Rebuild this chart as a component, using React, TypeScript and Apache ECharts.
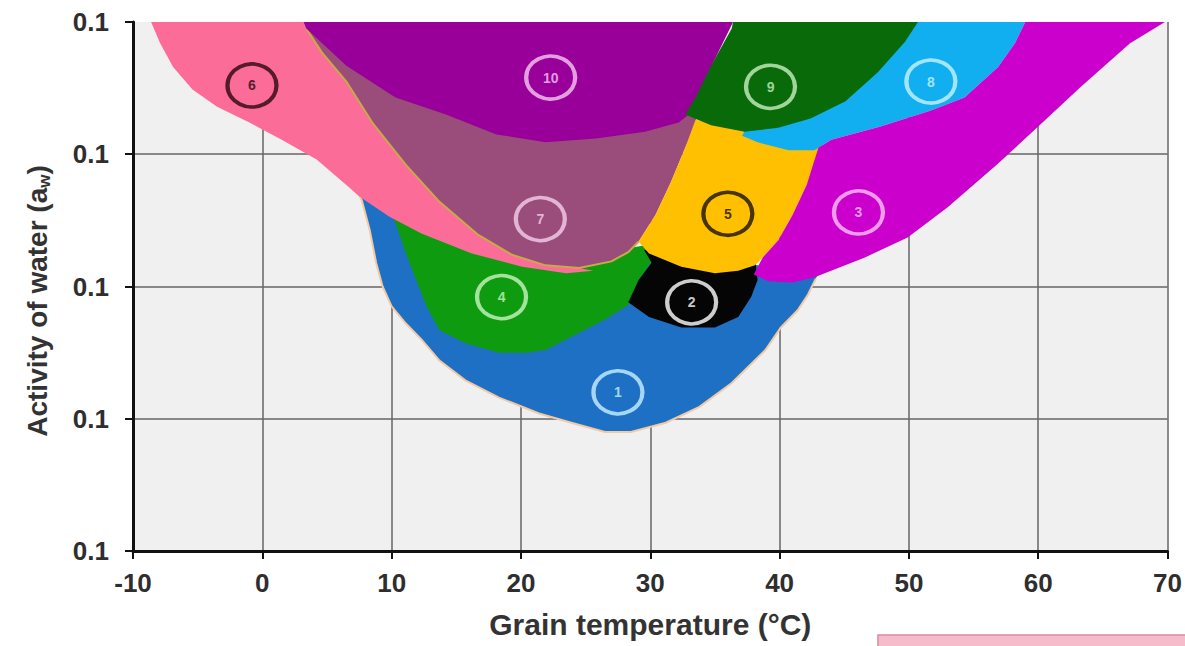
import React, { useEffect, useRef } from "react";
import * as echarts from "echarts";

// Axes
const xMin = -10;
const xMax = 70;
const xStep = 10;
const yMin = 0.6;
const yMax = 1.0;
const yStep = 0.1;
const yTickLabels = ["0.1", "0.1", "0.1", "0.1", "0.1"];
const xAxisTitle = "Grain temperature (°C)";
const yAxisTitleMain = "Activity of water (a";
const yAxisTitleSub = "w";

// Region outlines: [temperature °C, water activity]
const region1 = [[7.5,0.869],[7.7,0.865],[8.3,0.843],[8.8,0.818],[9.3,0.800],[10.0,0.785],[11.1,0.772],[12.3,0.760],[13.7,0.744],[15.7,0.729],[18.3,0.716],[21.4,0.704],[23.9,0.697],[26.5,0.690],[28.5,0.690],[31.2,0.697],[33.8,0.709],[36.3,0.727],[38.9,0.752],[40.1,0.769],[41.4,0.782],[42.2,0.794],[42.8,0.806],[43.1,0.811],[40.7,0.814],[38.3,0.816],[33.8,0.824],[29.1,0.828],[22.9,0.816],[16.7,0.831],[12.1,0.850]];
const region1Edge = [[7.5,0.869],[7.7,0.865],[8.3,0.843],[8.8,0.818],[9.3,0.800],[10.0,0.785],[11.1,0.772],[12.3,0.760],[13.7,0.744],[15.7,0.729],[18.3,0.716],[21.4,0.704],[23.9,0.697],[26.5,0.690],[28.5,0.690],[31.2,0.697],[33.8,0.709],[36.3,0.727],[38.9,0.752],[40.1,0.769],[41.4,0.782],[42.2,0.794],[42.8,0.806]];
const region4 = [[9.8,0.858],[10.3,0.848],[11.1,0.825],[11.9,0.805],[12.7,0.785],[13.7,0.767],[15.7,0.757],[18.3,0.750],[20.4,0.750],[21.9,0.752],[23.9,0.762],[26.5,0.775],[28.3,0.786],[29.1,0.805],[30.1,0.819],[29.5,0.831],[28.3,0.829],[26.0,0.822],[22.9,0.820],[16.7,0.835],[12.1,0.854]];
const region2 = [[29.5,0.828],[32.4,0.820],[35.0,0.816],[36.8,0.819],[38.1,0.822],[38.3,0.805],[37.8,0.792],[36.8,0.777],[35.0,0.769],[32.4,0.769],[29.9,0.777],[28.3,0.788],[29.1,0.805],[30.1,0.818]];
const region6 = [[-8.6,1.0],[3.2,1.0],[3.4,0.995],[4.6,0.977],[6.5,0.955],[8.5,0.924],[11.1,0.892],[13.7,0.864],[16.7,0.839],[19.3,0.824],[21.9,0.816],[24.5,0.814],[25.6,0.812],[23.5,0.810],[20.1,0.815],[16.2,0.825],[12.3,0.840],[9.8,0.853],[7.5,0.868],[6.7,0.875],[4.2,0.896],[1.5,0.911],[-1.0,0.924],[-3.5,0.936],[-5.4,0.949],[-6.9,0.966],[-7.9,0.984]];
const region7 = [[3.2,1.0],[3.4,0.995],[4.6,0.977],[6.5,0.955],[8.5,0.924],[11.1,0.892],[13.7,0.864],[16.7,0.839],[19.3,0.824],[21.9,0.816],[24.5,0.814],[27.0,0.819],[28.3,0.826],[29.1,0.834],[30.4,0.854],[31.6,0.879],[32.7,0.905],[33.5,0.922],[34.5,1.0]];
const region7Edge = [[3.4,0.995],[4.6,0.977],[6.5,0.955],[8.5,0.924],[11.1,0.892],[13.7,0.864],[16.7,0.839],[19.3,0.824],[21.9,0.816],[24.5,0.814],[27.0,0.819],[28.3,0.826],[29.1,0.834]];
const region5 = [[33.5,0.926],[37.3,0.919],[39.9,0.911],[43.4,0.907],[42.1,0.877],[41.0,0.854],[39.9,0.835],[38.7,0.822],[38.1,0.816],[36.8,0.812],[35.0,0.810],[32.4,0.815],[29.9,0.825],[29.1,0.834],[30.4,0.854],[31.6,0.879],[32.7,0.905]];
const region10 = [[3.2,1.0],[3.4,0.995],[6.5,0.967],[10.3,0.943],[14.2,0.930],[18.1,0.915],[21.9,0.909],[25.8,0.912],[29.6,0.917],[32.2,0.924],[33.1,0.931],[34.7,0.966],[36.4,1.0]];
const region8 = [[49.9,1.0],[59.0,1.0],[58.2,0.984],[56.9,0.966],[54.3,0.943],[51.7,0.933],[47.8,0.921],[44.0,0.911],[42.7,0.903],[40.7,0.903],[38.3,0.909],[37.1,0.914],[38.3,0.935],[45.0,0.960]];
const region9 = [[36.4,1.0],[50.7,1.0],[49.7,0.985],[47.6,0.962],[45.1,0.940],[42.4,0.927],[39.9,0.920],[37.3,0.917],[34.7,0.922],[32.7,0.930],[33.5,0.943],[34.7,0.967],[36.3,0.995]];
const region3 = [[59.0,1.0],[69.8,1.0],[67.1,0.984],[63.3,0.951],[60.0,0.921],[56.9,0.893],[53.0,0.860],[49.9,0.837],[46.6,0.822],[42.7,0.807],[41.0,0.803],[39.1,0.804],[38.0,0.809],[38.7,0.822],[39.9,0.835],[41.0,0.854],[42.1,0.877],[43.0,0.905],[44.0,0.911],[47.8,0.921],[51.7,0.933],[54.3,0.943],[56.9,0.966],[58.2,0.984]];

// Region number labels: [name, temperature, water activity]
const labelNames = ["1", "2", "3", "4", "5", "6", "7", "8", "9", "10"];
const labelX = [27.5, 33.2, 46.1, 18.5, 36.0, -0.8, 21.5, 51.7, 39.3, 22.3];
const labelY = [0.720, 0.788, 0.856, 0.792, 0.855, 0.952, 0.851, 0.955, 0.951, 0.958];

// Styles (drawing order bottom -> top)
const layers = [
  { pts: region1, fill: "#1e70c4", edge: region1Edge, edgeColor: "#f2c9a2" },
  { pts: region4, fill: "#0f9b10" },
  { pts: region2, fill: "#050505" },
  { pts: region6, fill: "#fc6c98" },
  { pts: region7, fill: "#9a4d7b", edge: region7Edge, edgeColor: "#c9aa45" },
  { pts: region5, fill: "#fec000" },
  { pts: region10, fill: "#990099" },
  { pts: region8, fill: "#12aff0" },
  { pts: region9, fill: "#096a0a" },
  { pts: region3, fill: "#cc00cc" },
];
const ringColors = ["#c8f0ff", "#ffffff", "#f7c3f2", "#c8f5c0", "#1a1000", "#2a0612", "#f3d0ea", "#c8f4ff", "#c8f0c0", "#f4c8f2"];

const FONT = "'Liberation Sans', Arial, sans-serif";

export default function App() {
  const ref = useRef<HTMLDivElement>(null);
  useEffect(() => {
    if (!ref.current) return;
    const chart = echarts.init(ref.current, null, { renderer: "svg" });
    const regionSeries = layers.map((layer) => ({
      type: "custom",
      data: layer.pts,
      silent: true,
      renderItem: (params: any, api: any) => {
        if (params.dataIndex !== 0) return null;
        const children: any[] = [
          {
            type: "polygon",
            shape: { points: layer.pts.map((p) => api.coord(p)) },
            style: { fill: layer.fill, stroke: null },
          },
        ];
        if (layer.edge) {
          children.push({
            type: "polyline",
            shape: { points: layer.edge.map((p) => api.coord(p)) },
            style: { fill: null, stroke: layer.edgeColor, lineWidth: 2 },
          });
        }
        return { type: "group", children };
      },
    }));
    const labelData = labelNames.map((n, i) => ({
      value: [labelX[i], labelY[i], n],
      itemStyle: { borderColor: ringColors[i] },
      label: { color: ringColors[i] },
    }));
    chart.setOption({
      animation: false,
      backgroundColor: "#ffffff",
      grid: { left: 133, right: 15, top: 22, bottom: 95, show: true, backgroundColor: "#f0f0f0", borderWidth: 0 },
      xAxis: {
        type: "value",
        min: xMin,
        max: xMax,
        interval: xStep,
        axisLine: { show: true, onZero: false, lineStyle: { color: "#111", width: 3 } },
        axisTick: { show: true, length: 8, lineStyle: { color: "#111", width: 2 } },
        axisLabel: { margin: 19, color: "#2e2e2e", fontSize: 26, fontWeight: "bold", fontFamily: FONT },
        splitLine: { show: true, showMinLine: false, lineStyle: { color: "#666", width: 1.5 } },
        name: xAxisTitle,
        nameLocation: "middle",
        nameGap: 58,
        nameTextStyle: { fontSize: 30, fontWeight: "bold", color: "#333", fontFamily: FONT },
      },
      yAxis: {
        type: "value",
        min: yMin,
        max: yMax,
        interval: yStep,
        axisLine: { show: true, onZero: false, lineStyle: { color: "#111", width: 3 } },
        axisTick: { show: true, length: 8, lineStyle: { color: "#111", width: 2 } },
        axisLabel: {
          margin: 24,
          color: "#2e2e2e",
          fontSize: 26,
          fontWeight: "bold",
          fontFamily: FONT,
          formatter: (_v: number, i: number) => yTickLabels[i] ?? "",
        },
        splitLine: { show: true, showMinLine: false, showMaxLine: false, lineStyle: { color: "#666", width: 1.5 } },
      },
      graphic: [
        {
          type: "text",
          x: 37,
          y: 301,
          rotation: Math.PI / 2,
          style: {
            text: "{a|" + yAxisTitleMain + "}{s|" + yAxisTitleSub + "}{a|)}",
            align: "center",
            verticalAlign: "middle",
            rich: {
              a: { fontSize: 28, fontWeight: "bold", fill: "#333", fontFamily: FONT, lineHeight: 32 },
              s: { fontSize: 17, fontWeight: "bold", fill: "#333", fontFamily: FONT, verticalAlign: "bottom", lineHeight: 32 },
            },
          },
        },
        {
          type: "rect",
          shape: { x: 878, y: 635, width: 320, height: 20 },
          style: { fill: "#f6bccb", stroke: "#d98aa2", lineWidth: 1.5 },
        },
      ],
      series: [
        ...regionSeries,
        {
          type: "scatter",
          data: labelData,
          symbol: "circle",
          symbolSize: [49, 43],
          silent: true,
          itemStyle: { color: "rgba(0,0,0,0)", borderWidth: 4 },
          label: {
            show: true,
            position: "inside",
            formatter: (p: any) => p.value[2],
            fontSize: 14,
            fontWeight: "bold",
            fontFamily: FONT,
          },
          z: 10,
        },
      ],
    });
    return () => chart.dispose();
  }, []);
  return <div ref={ref} style={{ position: "absolute", left: 0, top: 0, width: 1185, height: 646 }} />;
}
